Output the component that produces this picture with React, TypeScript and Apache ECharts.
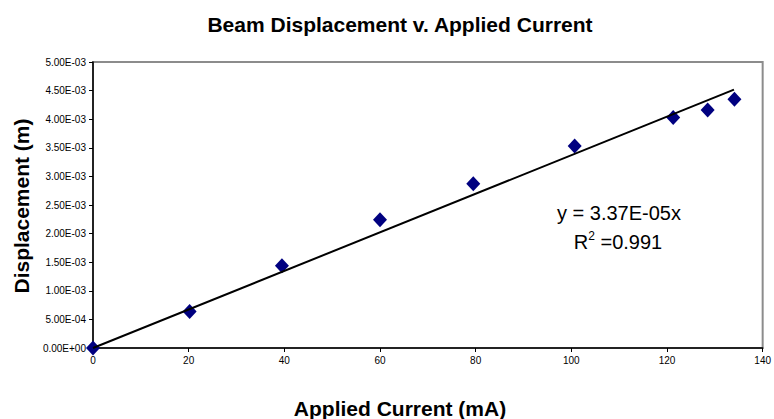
import React, { useEffect, useRef } from "react";
import * as echarts from "echarts";

const chartTitle = "Beam Displacement v. Applied Current";
const xAxisTitle = "Applied Current (mA)";
const yAxisTitle = "Displacement (m)";
const equationText = "y = 3.37E-05x";
const r2Value = "0.991";

const currentMA = [0, 20.2, 39.5, 60, 79.5, 100.7, 121.3, 128.5, 134.1];
const displacementM = [0, 6.4e-4, 1.44e-3, 2.24e-3, 2.87e-3, 3.53e-3, 4.03e-3, 4.16e-3, 4.35e-3];
const trendX = [0, 134];
const trendY = [0, 4.516e-3];

const FONT = "'Liberation Sans', Arial, sans-serif";

function fmtSci(v: number): string {
  const s = v.toExponential(2);
  const [m, e] = s.split("e");
  const sign = e[0] === "-" ? "-" : "+";
  const digits = e.replace(/[+-]/, "").padStart(2, "0");
  return `${m}E${sign}${digits}`;
}

export default function App() {
  const ref = useRef<HTMLDivElement>(null);
  useEffect(() => {
    if (!ref.current) return;
    const chart = echarts.init(ref.current, undefined, { renderer: "svg" });
    const points = currentMA.map((x, i) => [x, displacementM[i]]);
    const trend = trendX.map((x, i) => [x, trendY[i]]);
    chart.setOption({
      animation: false,
      backgroundColor: "#ffffff",
      textStyle: { fontFamily: FONT },
      grid: {
        left: 93,
        top: 62,
        right: 8,
        bottom: 71,
        show: true,
        borderColor: "#8c8c8c",
        borderWidth: 2,
        backgroundColor: "transparent",
      },
      xAxis: {
        type: "value",
        min: 0,
        max: 140,
        interval: 20,
        axisLine: { show: true, onZero: false, lineStyle: { color: "#000", width: 1.5 } },
        axisTick: { show: true, length: 4, lineStyle: { color: "#000" } },
        axisLabel: { fontSize: 10, color: "#000", margin: 7, fontFamily: FONT },
        splitLine: { show: false },
      },
      yAxis: {
        type: "value",
        min: 0,
        max: 0.005,
        interval: 0.0005,
        axisLine: { show: true, onZero: false, lineStyle: { color: "#000", width: 1.5 } },
        axisTick: { show: true, length: 4, lineStyle: { color: "#000" } },
        axisLabel: {
          fontSize: 10,
          color: "#000",
          margin: 7,
          fontFamily: FONT,
          formatter: (v: number) => fmtSci(v),
        },
        splitLine: { show: false },
      },
      series: [
        {
          type: "scatter",
          data: points,
          symbol: "diamond",
          symbolSize: [14, 15],
          itemStyle: { color: "#000080", opacity: 1 },
          z: 2,
        },
        {
          type: "line",
          data: trend,
          symbol: "none",
          lineStyle: { color: "#000", width: 2 },
          z: 3,
        },
      ],
      graphic: [
        {
          type: "text",
          x: 400,
          y: 24,
          style: {
            text: chartTitle,
            font: `bold 21px ${FONT}`,
            fill: "#000",
            align: "center",
            verticalAlign: "middle",
          },
        },
        {
          type: "text",
          x: 400,
          y: 408,
          style: {
            text: xAxisTitle,
            font: `bold 21px ${FONT}`,
            fill: "#000",
            align: "center",
            verticalAlign: "middle",
          },
        },
        {
          type: "text",
          x: 21,
          y: 206,
          rotation: Math.PI / 2,
          style: {
            text: yAxisTitle,
            font: `bold 21px ${FONT}`,
            fill: "#000",
            align: "center",
            verticalAlign: "middle",
          },
        },
        {
          type: "text",
          x: 619,
          y: 213,
          style: {
            text: equationText,
            font: `20px ${FONT}`,
            fill: "#000",
            align: "center",
            verticalAlign: "middle",
          },
        },
        {
          type: "text",
          x: 618,
          y: 242,
          style: {
            text: `{a|R}{s|2}{a| =${r2Value}}`,
            align: "center",
            verticalAlign: "middle",
            rich: {
              a: { fontSize: 20, fontFamily: FONT, fill: "#000", lineHeight: 24 },
              s: { fontSize: 12, fontFamily: FONT, fill: "#000", verticalAlign: "top", lineHeight: 24, padding: [0, 0, 10, 0] },
            },
          },
        },
      ],
    });
    return () => chart.dispose();
  }, []);
  return (
    <div
      ref={ref}
      style={{ position: "fixed", left: 0, top: 0, width: 774, height: 419, background: "#fff" }}
    />
  );
}
